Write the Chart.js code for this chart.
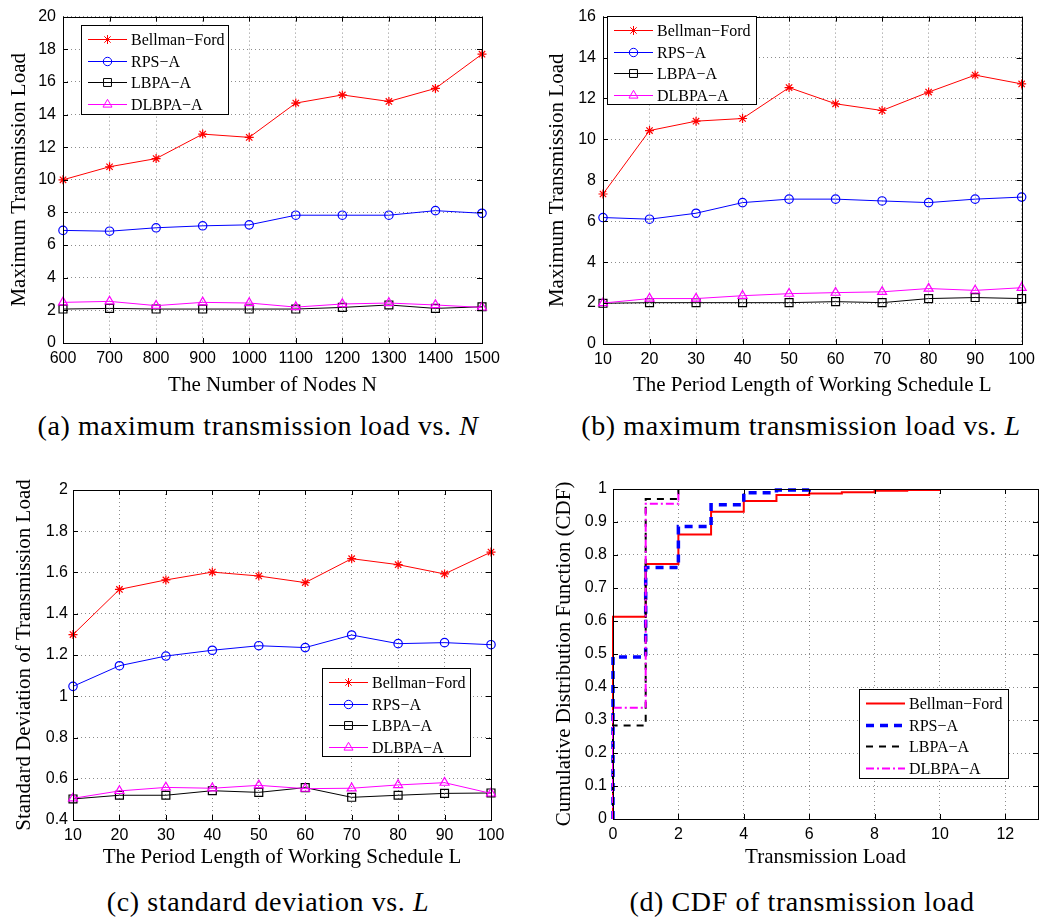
<!DOCTYPE html>
<html>
<head>
<meta charset="utf-8">
<script src="https://cdn.jsdelivr.net/npm/chart.js@4.4.1/dist/chart.umd.min.js"></script>
<style>
  body { margin: 0; background: #fff; width: 1041px; height: 918px; position: relative; overflow: hidden; }
  canvas { position: absolute; }
  .cap { position: absolute; font-family: "Liberation Serif", serif; font-size: 28px; letter-spacing: 0.6px; line-height: 32px; color: #000; white-space: nowrap; transform: translateX(-50%); }
</style>
</head>
<body>
<canvas id="chartA" style="left:0;top:0" width="520" height="400"></canvas>
<canvas id="chartB" style="left:520px;top:0" width="521" height="400"></canvas>
<canvas id="chartC" style="left:0;top:460px" width="520" height="410"></canvas>
<canvas id="chartD" style="left:520px;top:460px" width="521" height="410"></canvas>
<div class="cap" style="left:258px;top:410px">(a) maximum transmission load vs. <i>N</i></div>
<div class="cap" style="left:801px;top:410px">(b) maximum transmission load vs. <i>L</i></div>
<div class="cap" style="left:268px;top:886px">(c) standard deviation vs. <i>L</i></div>
<div class="cap" style="left:802px;top:886px">(d) CDF of transmission load</div>
<script>
// labels shared by all four panels
const seriesNames = ['Bellman\u2212Ford', 'RPS\u2212A', 'LBPA\u2212A', 'DLBPA\u2212A'];

// (a) max load vs number of nodes
const nodes = [600, 700, 800, 900, 1000, 1100, 1200, 1300, 1400, 1500];
const loadN_BF = [10.0, 10.8, 11.3, 12.8, 12.6, 14.7, 15.2, 14.8, 15.6, 17.7];
const loadN_RPS = [6.9, 6.85, 7.06, 7.18, 7.24, 7.83, 7.83, 7.83, 8.11, 7.95];
const loadN_LBPA = [2.08, 2.12, 2.08, 2.08, 2.08, 2.08, 2.18, 2.33, 2.12, 2.22];
const loadN_DLBPA = [2.49, 2.55, 2.29, 2.49, 2.45, 2.2, 2.39, 2.45, 2.33, 2.18];
const ticksA_x = [600, 700, 800, 900, 1000, 1100, 1200, 1300, 1400, 1500];
const ticksA_y = [0, 2, 4, 6, 8, 10, 12, 14, 16, 18, 20];

// (b) max load vs period length
const periods = [10, 20, 30, 40, 50, 60, 70, 80, 90, 100];
const loadL_BF = [7.33, 10.43, 10.89, 11.02, 12.53, 11.74, 11.41, 12.31, 13.14, 12.71];
const loadL_RPS = [6.18, 6.10, 6.39, 6.91, 7.08, 7.08, 6.99, 6.91, 7.08, 7.18];
const loadL_LBPA = [1.99, 2.02, 2.02, 2.02, 2.02, 2.07, 2.02, 2.22, 2.27, 2.22];
const loadL_DLBPA = [2.0, 2.22, 2.22, 2.36, 2.46, 2.51, 2.55, 2.71, 2.62, 2.75];
const ticksB_x = [10, 20, 30, 40, 50, 60, 70, 80, 90, 100];
const ticksB_y = [0, 2, 4, 6, 8, 10, 12, 14, 16];

// (c) std deviation vs period length
const std_BF = [1.299, 1.518, 1.564, 1.602, 1.583, 1.551, 1.667, 1.638, 1.593, 1.699];
const std_RPS = [1.048, 1.148, 1.195, 1.223, 1.245, 1.236, 1.297, 1.255, 1.260, 1.250];
const std_LBPA = [0.502, 0.520, 0.520, 0.542, 0.534, 0.557, 0.510, 0.520, 0.529, 0.531];
const std_DLBPA = [0.505, 0.541, 0.558, 0.554, 0.568, 0.552, 0.554, 0.570, 0.581, 0.529];
const ticksC_y = [0.4, 0.6, 0.8, 1, 1.2, 1.4, 1.6, 1.8, 2];

// (d) CDF of transmission load (step points)
const cdfX_BF = [0, 0, 1, 2, 3, 4, 5, 6, 7, 8, 9, 10];
const cdf_BF = [0, 0.613, 0.773, 0.862, 0.931, 0.964, 0.982, 0.986, 0.990, 0.995, 0.997, 1];
const cdfX_RPS = [0, 0, 1, 2, 3, 4, 5, 6];
const cdf_RPS = [0, 0.491, 0.762, 0.886, 0.952, 0.989, 0.997, 1];
const cdfX_LBPA = [0, 0, 1, 2];
const cdf_LBPA = [0, 0.283, 0.970, 1];
const cdfX_DLBPA = [0, 0, 1, 2];
const cdf_DLBPA = [0, 0.337, 0.955, 1];
const ticksD_x = [0, 2, 4, 6, 8, 10, 12];
const ticksD_y = [0, 0.1, 0.2, 0.3, 0.4, 0.5, 0.6, 0.7, 0.8, 0.9, 1];

const colors = ['#ff0000', '#0000ff', '#000000', '#ff00ff'];
const markers = ['star', 'circle', 'rect', 'triangle'];
const markerSize = [4.5, 4.2, 5.6, 5.2];

const tickFont = { family: '"Liberation Sans", Arial, sans-serif', size: 16 };
const titleFont = { family: '"Liberation Serif", "Times New Roman", serif', size: 21 };
const legendFont = '16px "Liberation Serif", "Times New Roman", serif';
const gridColor = 'rgba(0,0,0,0.45)';

function fmt(v) { return String(Math.round(v * 100) / 100); }

function drawMarker(ctx, style, x, y, r) {
  ctx.beginPath();
  if (style === 'circle') {
    ctx.arc(x, y, r, 0, Math.PI * 2);
  } else if (style === 'rect') {
    const s = r * Math.SQRT1_2;
    ctx.rect(x - s, y - s, 2 * s, 2 * s);
  } else if (style === 'triangle') {
    let a = 0;
    ctx.moveTo(x + Math.sin(a) * r, y - Math.cos(a) * r);
    a += 2 * Math.PI / 3; ctx.lineTo(x + Math.sin(a) * r, y - Math.cos(a) * r);
    a += 2 * Math.PI / 3; ctx.lineTo(x + Math.sin(a) * r, y - Math.cos(a) * r);
    ctx.closePath();
  } else if (style === 'star') {
    const d = Math.cos(Math.PI / 4) * r;
    ctx.moveTo(x - r, y); ctx.lineTo(x + r, y);
    ctx.moveTo(x, y - r); ctx.lineTo(x, y + r);
    ctx.moveTo(x - d, y - d); ctx.lineTo(x + d, y + d);
    ctx.moveTo(x - d, y + d); ctx.lineTo(x + d, y - d);
  }
  ctx.stroke();
}

// axes box, inward ticks and the boxed legend
const frame = {
  id: 'frame',
  afterDatasetsDraw(chart) {
    const { ctx, chartArea: a, scales: { x, y } } = chart;
    ctx.save();
    ctx.strokeStyle = '#000';
    ctx.lineWidth = 1;
    ctx.setLineDash([]);
    ctx.beginPath();
    x.ticks.forEach(t => {
      const px = Math.round(x.getPixelForValue(t.value)) + 0.5;
      ctx.moveTo(px, a.bottom); ctx.lineTo(px, a.bottom - 5);
      ctx.moveTo(px, a.top); ctx.lineTo(px, a.top + 5);
    });
    y.ticks.forEach(t => {
      const py = Math.round(y.getPixelForValue(t.value)) + 0.5;
      ctx.moveTo(a.left, py); ctx.lineTo(a.left + 5, py);
      ctx.moveTo(a.right, py); ctx.lineTo(a.right - 5, py);
    });
    ctx.stroke();
    ctx.strokeRect(Math.round(a.left) + 0.5, Math.round(a.top) + 0.5, Math.round(a.right - a.left), Math.round(a.bottom - a.top));
    ctx.restore();
  },
  afterDraw(chart, args, opts) {
    if (!opts.box) return;
    const { ctx } = chart;
    const [lx, ly, w, h] = opts.box;
    ctx.save();
    ctx.fillStyle = '#fff';
    ctx.fillRect(lx, ly, w, h);
    ctx.strokeStyle = '#000';
    ctx.lineWidth = 1;
    ctx.strokeRect(lx + 0.5, ly + 0.5, w, h);
    ctx.font = legendFont;
    ctx.textBaseline = 'middle';
    chart.data.datasets.forEach((ds, i) => {
      const ry = Math.round(ly + 14 + i * 21.7) + 0.5;
      ctx.strokeStyle = ds.borderColor;
      ctx.lineWidth = ds.borderWidth;
      ctx.setLineDash(ds.borderDash || []);
      ctx.beginPath();
      ctx.moveTo(lx + 7, ry); ctx.lineTo(lx + 46, ry);
      ctx.stroke();
      ctx.setLineDash([]);
      if (ds.pointRadius > 0) {
        ctx.lineWidth = 1;
        drawMarker(ctx, ds.pointStyle, lx + 26.5, ry, ds.pointRadius);
      }
      ctx.fillStyle = '#000';
      ctx.fillText(ds.label, lx + 50, ry + 1);
    });
    ctx.restore();
  }
};

function lineSet(i, xs, ys) {
  return {
    label: seriesNames[i],
    data: xs.map((x, k) => ({ x: x, y: ys[k] })),
    borderColor: colors[i],
    backgroundColor: colors[i],
    borderWidth: 1,
    pointStyle: markers[i],
    pointRadius: markerSize[i],
    pointBorderColor: colors[i],
    pointBackgroundColor: 'rgba(0,0,0,0)',
    pointBorderWidth: 1.2,
    tension: 0,
    clip: false,
    order: 3 - i
  };
}

function axes(o) {
  return {
    x: {
      type: 'linear', min: o.xmin, max: o.xmax,
      afterBuildTicks: s => { s.ticks = o.xticks.map(v => ({ value: v })); },
      afterFit: s => { s.height = o.xh; },
      grid: { color: gridColor, lineWidth: 1, drawTicks: false },
      border: { display: false, dash: [1, 3] },
      ticks: { font: tickFont, color: '#000', padding: o.xpad, maxRotation: 0, autoSkip: false, callback: v => fmt(v) },
      title: { display: true, text: o.xtitle, font: titleFont, color: '#000', padding: { top: 0, bottom: o.xtp } }
    },
    y: {
      type: 'linear', min: o.ymin, max: o.ymax,
      afterBuildTicks: s => { s.ticks = o.yticks.map(v => ({ value: v })); },
      afterFit: s => { s.width = o.yw; },
      grid: { color: gridColor, lineWidth: 1, drawTicks: false },
      border: { display: false, dash: [1, 3] },
      ticks: { font: tickFont, color: '#000', padding: o.ypad, autoSkip: false, callback: v => fmt(v) },
      title: { display: true, text: o.ytitle, font: titleFont, color: '#000', padding: { top: o.ytp, bottom: 0 } }
    }
  };
}

function makeChart(id, datasets, scales, padding, box) {
  return new Chart(document.getElementById(id), {
    type: 'line',
    data: { datasets: datasets },
    options: {
      responsive: false,
      animation: false,
      devicePixelRatio: 1,
      layout: { padding: padding },
      plugins: { legend: { display: false }, tooltip: { enabled: false }, frame: { box: box } },
      scales: scales
    },
    plugins: [frame]
  });
}

makeChart('chartA',
  [lineSet(0, nodes, loadN_BF), lineSet(1, nodes, loadN_RPS), lineSet(2, nodes, loadN_LBPA), lineSet(3, nodes, loadN_DLBPA)],
  axes({ xmin: 600, xmax: 1500, xticks: ticksA_x, ymin: 0, ymax: 20, yticks: ticksA_y, xh: 57, yw: 63, xpad: 6, ypad: 7, xtp: 2, ytp: 7,
         xtitle: 'The Number of Nodes N', ytitle: 'Maximum Transmission Load' }),
  { left: 0, top: 15, right: 38, bottom: 0 }, [81, 25, 147, 89]);

makeChart('chartB',
  [lineSet(0, periods, loadL_BF), lineSet(1, periods, loadL_RPS), lineSet(2, periods, loadL_LBPA), lineSet(3, periods, loadL_DLBPA)],
  axes({ xmin: 10, xmax: 100, xticks: ticksB_x, ymin: 0, ymax: 16, yticks: ticksB_y, xh: 56, yw: 83, xpad: 6, ypad: 7, xtp: 2, ytp: 25,
         xtitle: 'The Period Length of Working Schedule L', ytitle: 'Maximum Transmission Load' }),
  { left: 0, top: 12, right: 15, bottom: 0 }, [87, 16, 149, 88]);

makeChart('chartC',
  [lineSet(0, periods, std_BF), lineSet(1, periods, std_RPS), lineSet(2, periods, std_LBPA), lineSet(3, periods, std_DLBPA)],
  axes({ xmin: 10, xmax: 100, xticks: ticksB_x, ymin: 0.4, ymax: 2, yticks: ticksC_y, xh: 50, yw: 73, xpad: 6, ypad: 5, xtp: 0, ytp: 12,
         xtitle: 'The Period Length of Working Schedule L', ytitle: 'Standard Deviation of Transmission Load' }),
  { left: 0, top: 30, right: 29, bottom: 0 }, [322, 208, 148, 88]);

function cdfSet(i, xs, ys, width, dash) {
  return {
    label: seriesNames[i],
    data: xs.map((x, k) => ({ x: x, y: ys[k] })),
    borderColor: colors[i],
    borderWidth: width,
    borderDash: dash,
    pointRadius: 0,
    stepped: true,
    clip: false,
    order: 3 - i
  };
}

makeChart('chartD',
  [cdfSet(0, cdfX_BF, cdf_BF, 2, []), cdfSet(1, cdfX_RPS, cdf_RPS, 3.5, [8, 6]),
   cdfSet(2, cdfX_LBPA, cdf_LBPA, 2, [7, 6]), cdfSet(3, cdfX_DLBPA, cdf_DLBPA, 2, [8, 3, 2, 3])],
  axes({ xmin: 0, xmax: 13, xticks: ticksD_x, ymin: 0, ymax: 1, yticks: ticksD_y, xh: 51, yw: 93, xpad: 6, ypad: 6, xtp: 0, ytp: 32,
         xtitle: 'Transmission Load', ytitle: 'Cumulative Distribution Function (CDF)' }),
  { left: 0, top: 29, right: 3, bottom: 0 }, [339, 229, 149, 89]);
</script>
</body>
</html>
